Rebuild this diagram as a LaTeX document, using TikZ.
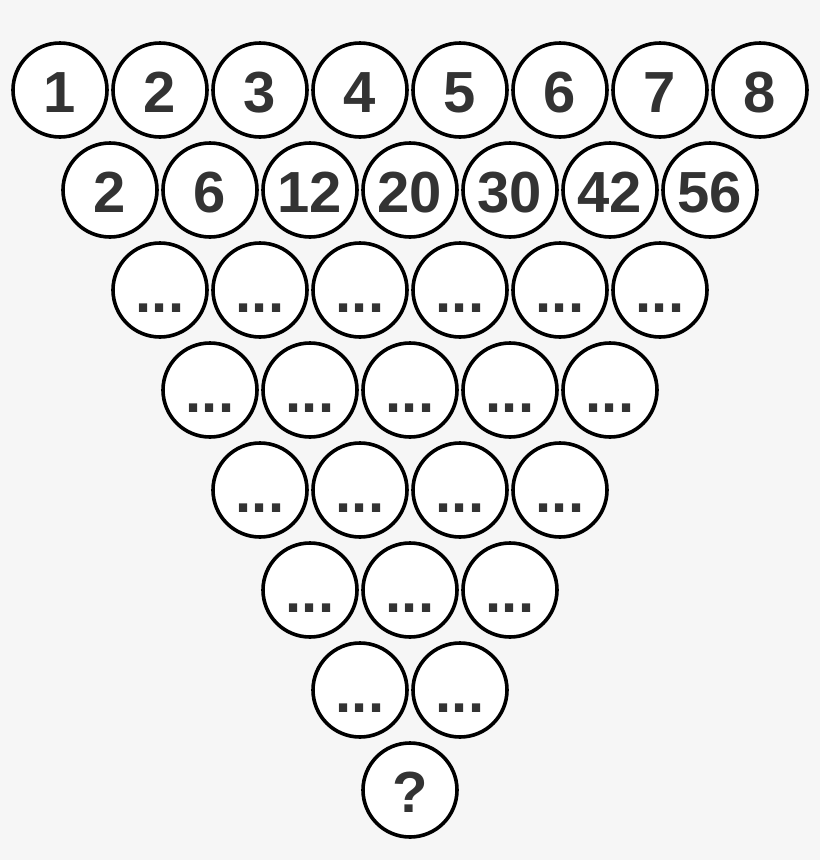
\documentclass[tikz,border=0pt]{standalone}
\usepackage{fontspec}
\setmainfont{Liberation Sans}
\definecolor{bg}{HTML}{F6F6F6}
\definecolor{txt}{HTML}{333333}
\tikzset{
  ball/.style={circle, draw=black, fill=white, line width=3.6pt, inner sep=0pt,
    minimum size=94pt, text height=44pt, text depth=0pt, text=txt,
    font=\fontsize{58}{60}\selectfont\bfseries}
}
\begin{document}
\begin{tikzpicture}[x=1pt,y=1pt]
\fill[bg] (0,0) rectangle (820,-860);
\useasboundingbox (0,0) rectangle (820,-860);
% row 0
\foreach \t [count=\c from 0] in {1,2,3,4,5,6,7,8}
  \node[ball] (n-0-\c) at (60+100*\c,-90) {\t};
% row 1
\foreach \t [count=\c from 0] in {2,6,12,20,30,42,56}
  \node[ball] (n-1-\c) at (110+100*\c,-190) {\t};
% rows 2..6
\foreach \r in {2,...,6}{
  \pgfmathtruncatemacro{\last}{7-\r}
  \foreach \c in {0,...,\last}
    \node[ball] (n-\r-\c) at (60+50*\r+100*\c,-90-100*\r) {...};
}
% last row
\node[ball] (n-7-0) at (410,-790) {?};
\end{tikzpicture}
\end{document}
